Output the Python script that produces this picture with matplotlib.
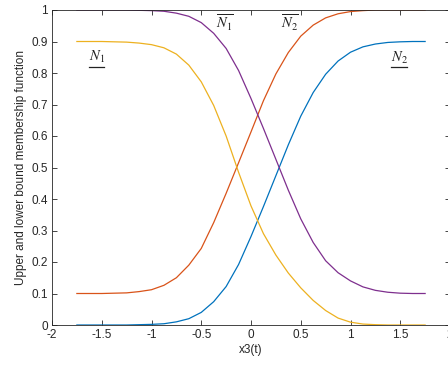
import matplotlib
matplotlib.use("Agg")
import matplotlib.pyplot as plt
from matplotlib.lines import Line2D

# x3(t) sample points
x3 = [-1.75, -1.625, -1.5, -1.375, -1.25, -1.125, -1.0, -0.875, -0.75, -0.625,
      -0.5, -0.375, -0.25, -0.125, 0.0, 0.125, 0.25, 0.375, 0.5, 0.625,
      0.75, 0.875, 1.0, 1.125, 1.25, 1.375, 1.5, 1.625, 1.75]

# lower bound N2 (blue)
low_n2 = [0, 0, 0, 0, 0, 0.001, 0.002, 0.004, 0.010, 0.020,
          0.040, 0.074, 0.122, 0.192, 0.281, 0.376, 0.474, 0.572, 0.663, 0.738,
          0.796, 0.838, 0.866, 0.883, 0.892, 0.897, 0.899, 0.9, 0.9]
# upper bound N2 (orange)
up_n2 = [0.100, 0.100, 0.100, 0.101, 0.102, 0.106, 0.112, 0.126, 0.150, 0.190,
         0.243, 0.325, 0.418, 0.515, 0.613, 0.712, 0.797, 0.865, 0.917, 0.952,
         0.975, 0.988, 0.995, 0.998, 1.0, 1.0, 1.0, 1.0, 1.0]
# lower bound N1 (yellow)
low_n1 = [0.900, 0.900, 0.900, 0.899, 0.898, 0.895, 0.890, 0.880, 0.860, 0.825,
          0.772, 0.697, 0.600, 0.485, 0.378, 0.290, 0.222, 0.165, 0.118, 0.078,
          0.046, 0.022, 0.009, 0.003, 0.001, 0, 0, 0, 0]
# upper bound N1 (purple)
up_n1 = [1, 1, 1, 1, 1, 0.999, 0.998, 0.996, 0.990, 0.980,
         0.960, 0.926, 0.878, 0.808, 0.719, 0.624, 0.526, 0.428, 0.337, 0.262,
         0.204, 0.166, 0.140, 0.121, 0.110, 0.104, 0.101, 0.100, 0.100]

xticks = [-2, -1.5, -1, -0.5, 0, 0.5, 1, 1.5, 2]
xtick_labels = ["-2", "-1.5", "-1", "-0.5", "0", "0.5", "1", "1.5", "2"]
yticks = [0, 0.1, 0.2, 0.3, 0.4, 0.5, 0.6, 0.7, 0.8, 0.9, 1]
ytick_labels = ["0", "0.1", "0.2", "0.3", "0.4", "0.5", "0.6", "0.7", "0.8", "0.9", "1"]

plt.rcParams["font.family"] = ["Liberation Sans", "DejaVu Sans"]
plt.rcParams["mathtext.fontset"] = "stix"

fig = plt.figure(figsize=(4.48, 3.67), dpi=100)
ax = fig.add_axes([52 / 448, 42 / 367, 398 / 448, 315 / 367])

ax.plot(x3, low_n2, color="#0072BD", lw=0.9)
ax.plot(x3, up_n2, color="#D95319", lw=0.9)
ax.plot(x3, low_n1, color="#EDB120", lw=0.9)
ax.plot(x3, up_n1, color="#7E2F8E", lw=0.9)

ax.set_xlim(-2, 2)
ax.set_ylim(0, 1)
ax.set_xticks(xticks)
ax.set_xticklabels(xtick_labels)
ax.set_yticks(yticks)
ax.set_yticklabels(ytick_labels)
ax.tick_params(direction="in", top=True, right=True, length=3.5, width=0.6,
               labelsize=8.5, colors="#262626", pad=3)
for sp in ax.spines.values():
    sp.set_linewidth(0.6)
    sp.set_color("#262626")

ax.set_xlabel("x3(t)", fontsize=8.5, color="#262626", labelpad=2)
ax.set_ylabel("Upper and lower bound membership function", fontsize=8.5,
              color="#262626", labelpad=3)

lab_kw = dict(fontsize=10.5, color="#222222", ha="center", va="center")
t1 = ax.text(-1.55, 0.85, r"$N_1$", **lab_kw)
ax.text(-0.26, 0.958, r"$\overline{N_1}$", **lab_kw)
ax.text(0.39, 0.958, r"$\overline{N_2}$", **lab_kw)
t2 = ax.text(1.49, 0.848, r"$N_2$", **lab_kw)

# underline the lower-bound labels
fig.canvas.draw()
for t in (t1, t2):
    bb = t.get_window_extent()
    y = bb.y0 - 1.5
    fig.add_artist(Line2D([bb.x0 + 0.5, bb.x1 - 0.5], [y, y], transform=None,
                          color="#222222", lw=0.9))

fig.savefig("out.png", dpi=100)
